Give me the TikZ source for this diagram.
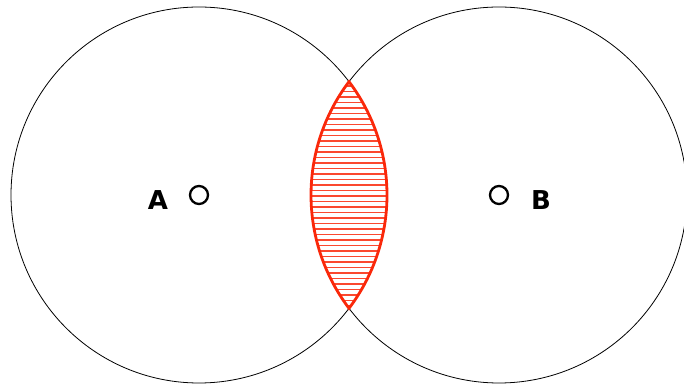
\documentclass[tikz,border=0pt]{standalone}
\usepackage{fontspec}
\newfontfamily\labelfont{DejaVu Sans}
\usetikzlibrary{positioning}
\definecolor{lensred}{RGB}{250,40,10}

\begin{document}
\begin{tikzpicture}[x=1pt, y=1pt,
  setline/.style={draw=black, line width=0.8pt},
  lens/.style={draw=lensred, line width=2.8pt, line join=miter},
  hatch/.style={draw=lensred!85, line width=1.2pt},
  centre/.style={circle, draw, line width=2.3pt, minimum size=18pt, inner sep=0pt},
  setlabel/.style={font=\labelfont\bfseries\fontsize{26}{26}\selectfont, inner sep=0pt}]
\useasboundingbox (0,0) rectangle (684,385);
\clip (0,0) rectangle (684,385);
\coordinate (ca) at (199,190);
\coordinate (cb) at (499,190);

% the two sets
\draw[setline] (ca) circle[radius=188];
\draw[setline] (cb) circle[radius=188];

% hatched overlap
\begin{scope}
  \clip (ca) circle[radius=188];
  \clip (cb) circle[radius=188];
  \foreach \y in {79,84.5,...,306}
    \draw[hatch] (300,\y) -- (400,\y);
\end{scope}
\draw[lens] (ca) ++(37.07:188) arc[start angle=37.07, end angle=-37.07, radius=188]
  arc[start angle=217.07, end angle=142.93, radius=188] -- cycle;

% centres and labels
\node[centre] (dotA) at (ca) {};
\node[centre] (dotB) at (cb) {};
\node[setlabel] (labA) at (158,185) {A};
\node[setlabel] (labB) at (541,185) {B};
\end{tikzpicture}
\end{document}
